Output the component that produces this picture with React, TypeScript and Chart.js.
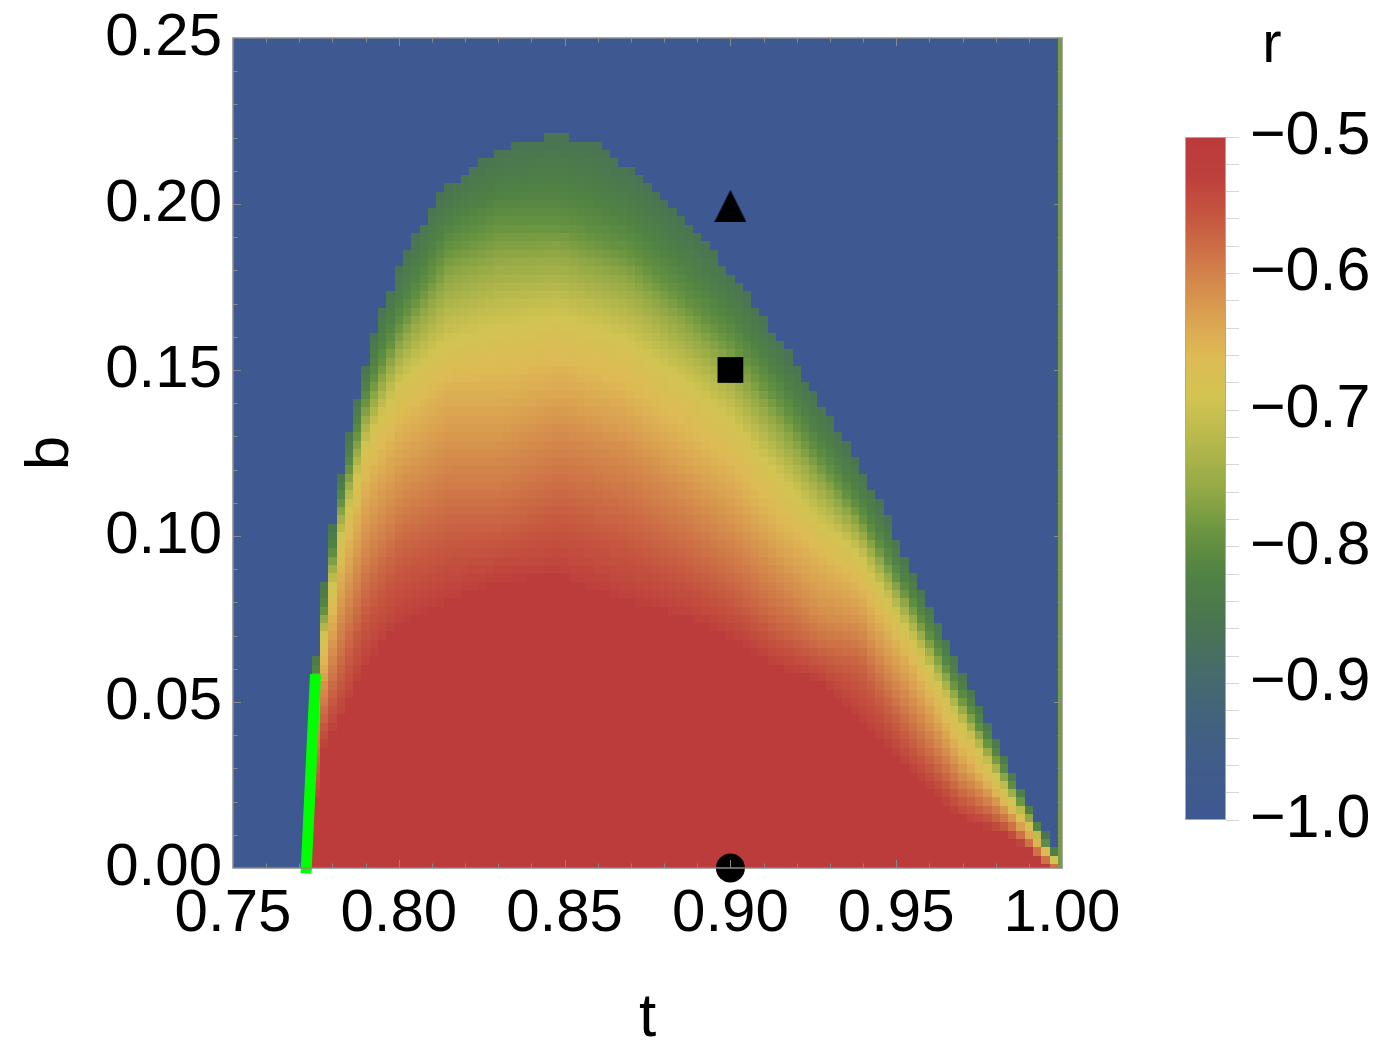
import React, { useEffect, useRef } from "react";
import { Chart, registerables } from "chart.js";

Chart.register(...registerables);

const FONT_FAMILY = "'Liberation Sans', Arimo, Arial, sans-serif";

// ---- axes ----
const tRange = [0.75, 1.0];
const bRange = [0, 0.25];
const tTicks = [0.75, 0.8, 0.85, 0.9, 0.95, 1.0];
const bTicks = [0, 0.05, 0.1, 0.15, 0.2, 0.25];
const rTicks = [-1.0, -0.9, -0.8, -0.7, -0.6, -0.5];
const rRange = [-1.0, -0.5];
const gridStep = 0.0025; // sampling step of the density grid (t and b)

// ---- upper edge of the r > -1 region: b as a function of t ----
const edgeT = [0.7747, 0.7775, 0.78, 0.7825, 0.785, 0.7875, 0.79, 0.7925, 0.795, 0.7975, 0.8, 0.8104, 0.8206, 0.8305, 0.8405, 0.8486, 0.8586, 0.8688, 0.8788, 0.8887, 0.899, 0.9089, 0.9189, 0.927, 0.934, 0.9442, 0.9542, 0.9641, 0.9744, 0.9843, 0.9943, 0.9985];
const edgeB = [0.062, 0.0861, 0.1033, 0.1184, 0.1307, 0.1416, 0.1509, 0.1605, 0.1684, 0.1741, 0.1807, 0.2005, 0.2105, 0.2165, 0.2198, 0.2205, 0.2188, 0.2112, 0.2025, 0.1925, 0.1807, 0.1676, 0.1532, 0.1402, 0.1295, 0.1119, 0.091, 0.0714, 0.0506, 0.0307, 0.011, 0.0054];

// ---- heights b of the r level curves, sampled along t ----
const levelR = [-0.86, -0.8, -0.69, -0.65, -0.61, -0.57, -0.53]; // edge, then the curves below
const bandT = [0.775, 0.7777, 0.7823, 0.7904, 0.8004, 0.8154, 0.8305, 0.8486, 0.8688, 0.8887, 0.9, 0.914, 0.927, 0.939, 0.9542, 0.9692, 0.9843, 0.9975];
const bandB80 = [0.058, 0.0795, 0.11, 0.143, 0.165, 0.189, 0.196, 0.196, 0.1878, 0.1705, 0.1604, 0.143, 0.1244, 0.1075, 0.081, 0.0527, 0.026, 0.003];
const bandB69 = [0.054, 0.071, 0.099, 0.1285, 0.146, 0.159, 0.163, 0.166, 0.159, 0.1445, 0.135, 0.1185, 0.104, 0.094, 0.07, 0.044, 0.021, 0.0025];
const bandB65 = [0.05, 0.062, 0.088, 0.116, 0.132, 0.1446, 0.1446, 0.149, 0.1416, 0.127, 0.1187, 0.1027, 0.092, 0.0834, 0.0614, 0.0352, 0.017, 0.0015];
const bandB61 = [0.043, 0.055, 0.074, 0.098, 0.113, 0.124, 0.124, 0.1316, 0.1244, 0.11, 0.1012, 0.0883, 0.076, 0.0723, 0.0506, 0.0286, 0.0154, 0.0005];
const bandB57 = [0.032, 0.046, 0.059, 0.081, 0.0955, 0.103, 0.103, 0.11, 0.1027, 0.0913, 0.084, 0.0723, 0.065, 0.0614, 0.0395, 0.022, 0.012, -0.0003];
const bandB53 = [0.022, 0.038, 0.045, 0.062, 0.074, 0.081, 0.087, 0.088, 0.081, 0.0753, 0.0696, 0.0608, 0.0566, 0.045, 0.0295, 0.0154, 0.0099, -0.001];
const innerR = -0.51; // deep inside the region
const outerR = -1.0; // outside the region
const boundaryColumnR = -0.78; // the t = 1 column

// ---- left boundary (green line) ----
const lineT = [0.7721, 0.7748];
const lineB = [0, 0.0567];

// ---- marked points ----
const markerT = [0.9, 0.9, 0.9];
const markerB = [0.2, 0.15, 0.0];

// ---- colour scale (r -> rgb) ----
const cmapR = [-1.0, -0.95, -0.9, -0.86, -0.82, -0.79, -0.76, -0.72, -0.69, -0.66, -0.63, -0.6, -0.56, -0.53, -0.5];
const cmapRGB = [
  [62, 88, 146], [65, 93, 136], [70, 104, 112], [74, 116, 84], [80, 130, 68],
  [105, 148, 64], [145, 168, 70], [185, 186, 76], [210, 196, 82], [222, 186, 85],
  [218, 160, 80], [210, 130, 74], [198, 88, 64], [190, 64, 60], [186, 58, 58],
];

function interp(xs: number[], ys: number[], x: number): number {
  if (x <= xs[0]) return ys[0];
  const n = xs.length;
  if (x >= xs[n - 1]) return ys[n - 1];
  for (let i = 1; i < n; i++) {
    if (x <= xs[i]) {
      const f = (x - xs[i - 1]) / (xs[i] - xs[i - 1]);
      return ys[i - 1] + f * (ys[i] - ys[i - 1]);
    }
  }
  return ys[n - 1];
}

function colorFor(r: number): string {
  const v = Math.min(rRange[1], Math.max(rRange[0], r));
  let i = 1;
  while (i < cmapR.length - 1 && v > cmapR[i]) i++;
  const f = (v - cmapR[i - 1]) / (cmapR[i] - cmapR[i - 1]);
  const a = cmapRGB[i - 1];
  const c = cmapRGB[i];
  const ch = (k: number) => Math.round(a[k] + f * (c[k] - a[k]));
  return `rgb(${ch(0)},${ch(1)},${ch(2)})`;
}

function fieldAt(t: number, b: number): number {
  if (t > tRange[1] - gridStep / 2) return boundaryColumnR;
  const tLeft = interp(lineB, lineT, b);
  if (t < tLeft) return outerR;
  const top = interp(edgeT, edgeB, t);
  if (b > top) return outerR;
  const hs = [
    top,
    interp(bandT, bandB80, t),
    interp(bandT, bandB69, t),
    interp(bandT, bandB65, t),
    interp(bandT, bandB61, t),
    interp(bandT, bandB57, t),
    interp(bandT, bandB53, t),
  ];
  for (let k = 0; k < hs.length - 1; k++) {
    if (b >= hs[k + 1]) {
      const span = hs[k] - hs[k + 1];
      const f = span > 1e-9 ? (b - hs[k + 1]) / span : 1;
      return levelR[k + 1] + f * (levelR[k] - levelR[k + 1]);
    }
  }
  return innerR;
}

function triangleMarker(): HTMLCanvasElement {
  const c = document.createElement("canvas");
  c.width = 32;
  c.height = 36;
  const g = c.getContext("2d")!;
  g.fillStyle = "#000";
  g.beginPath();
  g.moveTo(16, 4);
  g.lineTo(32, 36);
  g.lineTo(0, 36);
  g.closePath();
  g.fill();
  return c;
}

const densityPlugin = {
  id: "density",
  beforeDatasetsDraw(chart: any) {
    const { ctx, chartArea, scales } = chart;
    const xs = scales.x;
    const ys = scales.y;
    ctx.save();
    ctx.beginPath();
    ctx.rect(chartArea.left, chartArea.top, chartArea.right - chartArea.left, chartArea.bottom - chartArea.top);
    ctx.clip();
    const nT = Math.round((tRange[1] - tRange[0]) / gridStep);
    const nB = Math.round((bRange[1] - bRange[0]) / gridStep);
    for (let i = 0; i <= nT; i++) {
      const t = tRange[0] + i * gridStep;
      const x0 = Math.round(xs.getPixelForValue(t - gridStep / 2));
      const x1 = Math.round(xs.getPixelForValue(t + gridStep / 2));
      for (let j = 0; j <= nB; j++) {
        const b = bRange[0] + j * gridStep;
        const y0 = Math.round(ys.getPixelForValue(b + gridStep / 2));
        const y1 = Math.round(ys.getPixelForValue(b - gridStep / 2));
        ctx.fillStyle = colorFor(fieldAt(t, b));
        ctx.fillRect(x0, y0, x1 - x0, y1 - y0);
      }
    }
    ctx.restore();
  },
};

const framePlugin = {
  id: "frame",
  afterDatasetsDraw(chart: any) {
    const { ctx, chartArea, scales } = chart;
    const { left, right, top, bottom } = chartArea;
    ctx.save();
    ctx.strokeStyle = "#8a8a8a";
    ctx.lineWidth = 1;
    const minor = 0.01;
    const nt = Math.round((tRange[1] - tRange[0]) / minor);
    for (let k = 1; k < nt; k++) {
      const v = tRange[0] + k * minor;
      const len = k % 5 === 0 ? 8 : 4.5;
      const px = Math.round(scales.x.getPixelForValue(v)) + 0.5;
      ctx.beginPath();
      ctx.moveTo(px, bottom);
      ctx.lineTo(px, bottom - len);
      ctx.moveTo(px, top);
      ctx.lineTo(px, top + len);
      ctx.stroke();
    }
    const nb = Math.round((bRange[1] - bRange[0]) / minor);
    for (let k = 1; k < nb; k++) {
      const v = bRange[0] + k * minor;
      const len = k % 5 === 0 ? 8 : 4.5;
      const py = Math.round(scales.y.getPixelForValue(v)) + 0.5;
      ctx.beginPath();
      ctx.moveTo(left, py);
      ctx.lineTo(left + len, py);
      ctx.moveTo(right, py);
      ctx.lineTo(right - len, py);
      ctx.stroke();
    }
    ctx.lineWidth = 1.5;
    ctx.strokeRect(left, top, right - left, bottom - top);
    ctx.restore();
  },
};

const colorbarPlugin = {
  id: "colorbar",
  beforeDatasetsDraw(chart: any) {
    const { ctx, chartArea, scales } = chart;
    const { left, right, top, bottom } = chartArea;
    ctx.save();
    for (let py = Math.floor(top); py < Math.ceil(bottom); py++) {
      const r = scales.y.getValueForPixel(py + 0.5);
      ctx.fillStyle = colorFor(r);
      ctx.fillRect(left, py, right - left, 1);
    }
    ctx.strokeStyle = "#a8a8a8";
    ctx.lineWidth = 1;
    ctx.strokeRect(left + 0.5, top + 0.5, right - left - 1, bottom - top - 1);
    ctx.restore();
  },
  afterDraw(chart: any) {
    const { ctx, chartArea } = chart;
    ctx.save();
    ctx.fillStyle = "#000";
    ctx.font = `58px ${FONT_FAMILY}`;
    ctx.textAlign = "center";
    ctx.textBaseline = "alphabetic";
    ctx.fillText("r", chartArea.right + 46, 62);
    ctx.restore();
  },
};

const fmtR = (v: number) => (v < 0 ? "\u2212" : "") + Math.abs(v).toFixed(1);

// keep the plot box exactly where the layout padding puts it
const noLabelPadding = (s: any) => {
  s.paddingTop = 0;
  s.paddingBottom = 0;
  s.paddingLeft = 0;
  s.paddingRight = 0;
};

export default function App() {
  const mainRef = useRef<HTMLCanvasElement>(null);
  const barRef = useRef<HTMLCanvasElement>(null);

  useEffect(() => {
    const tickFont = { family: FONT_FAMILY, size: 60 };
    const titleFont = { family: FONT_FAMILY, size: 62 };

    const main = new Chart(mainRef.current!, {
      type: "scatter",
      data: {
        datasets: [
          {
            type: "line",
            data: lineT.map((t, i) => ({ x: t, y: lineB[i] })),
            borderColor: "#00ff00",
            borderWidth: 11,
            borderCapStyle: "square",
            pointRadius: 0,
            clip: false,
          } as any,
          {
            data: markerT.map((t, i) => ({ x: t, y: markerB[i] })),
            pointStyle: [triangleMarker(), "rect", "circle"] as any,
            pointRadius: [16, 18.2, 14.5],
            backgroundColor: "#000",
            borderColor: "#000",
            borderWidth: 0,
            clip: false,
          } as any,
        ],
      },
      options: {
        responsive: false,
        animation: false,
        devicePixelRatio: 1,
        events: [],
        layout: { autoPadding: false, padding: { left: 0, top: 38, right: 88, bottom: 0 } },
        plugins: { legend: { display: false }, tooltip: { enabled: false } },
        scales: {
          x: {
            type: "linear",
            min: tRange[0],
            max: tRange[1],
            afterBuildTicks: (s: any) => {
              s.ticks = tTicks.map((v) => ({ value: v }));
            },
            afterFit: (s: any) => {
              s.height = 191;
              noLabelPadding(s);
            },
            grid: { display: false, drawTicks: false },
            border: { display: false },
            ticks: {
              color: "#000",
              font: tickFont,
              padding: 10,
              maxRotation: 0,
              autoSkip: false,
              callback: (v: any) => Number(v).toFixed(2),
            },
            title: { display: true, text: "t", color: "#000", font: titleFont, padding: { top: 0, bottom: 3 } },
          },
          y: {
            type: "linear",
            min: bRange[0],
            max: bRange[1],
            afterBuildTicks: (s: any) => {
              s.ticks = bTicks.map((v) => ({ value: v }));
            },
            afterFit: (s: any) => {
              s.width = 233;
              noLabelPadding(s);
            },
            grid: { display: false, drawTicks: false },
            border: { display: false },
            ticks: {
              color: "#000",
              font: tickFont,
              padding: 11,
              autoSkip: false,
              callback: (v: any) => Number(v).toFixed(2),
            },
            title: { display: true, text: "b", color: "#000", font: titleFont, padding: { top: 14, bottom: 0 } },
          },
        },
      },
      plugins: [densityPlugin, framePlugin],
    } as any);

    const bar = new Chart(barRef.current!, {
      type: "scatter",
      data: { datasets: [{ data: [] }] },
      options: {
        responsive: false,
        animation: false,
        devicePixelRatio: 1,
        events: [],
        layout: { autoPadding: false, padding: { left: 35, top: 137, right: 0, bottom: 239 } },
        plugins: { legend: { display: false }, tooltip: { enabled: false } },
        scales: {
          x: { display: false, min: 0, max: 1 },
          y: {
            type: "linear",
            position: "right",
            min: rRange[0],
            max: rRange[1],
            afterBuildTicks: (s: any) => {
              const ticks = [];
              const n = Math.round((rRange[1] - rRange[0]) / 0.02);
              for (let k = 0; k <= n; k++) ticks.push({ value: rRange[0] + k * 0.02 });
              s.ticks = ticks;
            },
            afterFit: (s: any) => {
              s.width = 166;
              noLabelPadding(s);
            },
            grid: { display: true, drawOnChartArea: false, drawTicks: true, tickLength: 13, color: "#d6d6d6", lineWidth: 1 },
            border: { display: false },
            ticks: {
              color: "#000",
              font: { family: FONT_FAMILY, size: 61 },
              padding: 11,
              autoSkip: false,
              callback: (v: any) => {
                const hit = rTicks.find((r) => Math.abs(r - Number(v)) < 1e-6);
                return hit === undefined ? "" : fmtR(hit);
              },
            },
          },
        },
      },
      plugins: [colorbarPlugin],
    } as any);

    return () => {
      main.destroy();
      bar.destroy();
    };
  }, []);

  return (
    <div style={{ position: "fixed", left: 0, top: 0, width: 1392, height: 1059, background: "#fff" }}>
      <canvas ref={mainRef} width={1150} height={1059} style={{ position: "absolute", left: 0, top: 0 }} />
      <canvas ref={barRef} width={242} height={1059} style={{ position: "absolute", left: 1150, top: 0 }} />
    </div>
  );
}
